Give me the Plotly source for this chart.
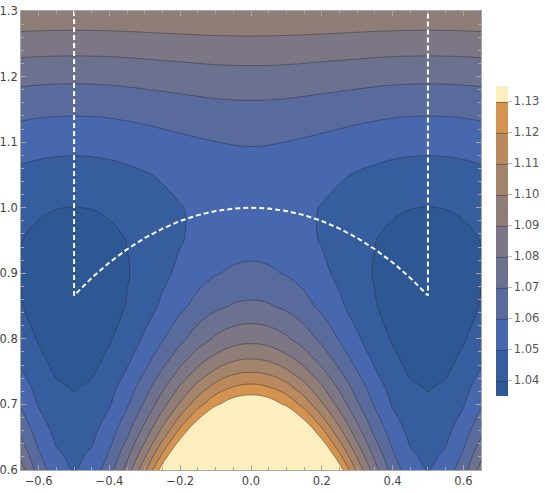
import plotly.graph_objects as go

# ---- data -----------------------------------------------------------------
# sample rows (y) and half-period columns (x >= 0); the field is mirror
# symmetric about x = 0 and about x = +-0.5
y_rows = [0.6, 0.625, 0.65, 0.675, 0.7, 0.725, 0.75, 0.775, 0.8, 0.85,
          0.9, 0.95, 1.0, 1.05, 1.1, 1.15, 1.2, 1.25, 1.3]
x_half = [0.0, 0.05, 0.1, 0.15, 0.2, 0.25, 0.3, 0.35, 0.4, 0.45, 0.5]

z_half = [
    [1.2310, 1.2261, 1.2120, 1.1904, 1.1639, 1.1355, 1.1080, 1.0840, 1.0656, 1.0539, 1.0500],  # 0.600
    [1.2032, 1.1989, 1.1866, 1.1679, 1.1450, 1.1205, 1.0970, 1.0766, 1.0609, 1.0511, 1.0478],  # 0.625
    [1.1787, 1.1750, 1.1643, 1.1480, 1.1282, 1.1072, 1.0871, 1.0698, 1.0566, 1.0484, 1.0456],  # 0.650
    [1.1575, 1.1543, 1.1451, 1.1311, 1.1141, 1.0961, 1.0788, 1.0640, 1.0528, 1.0458, 1.0434],  # 0.675
    [1.1390, 1.1362, 1.1283, 1.1162, 1.1016, 1.0862, 1.0714, 1.0588, 1.0492, 1.0433, 1.0413],  # 0.700
    [1.1234, 1.1211, 1.1144, 1.1042, 1.0917, 1.0785, 1.0658, 1.0549, 1.0466, 1.0414, 1.0396],  # 0.725
    [1.1094, 1.1074, 1.1017, 1.0930, 1.0824, 1.0711, 1.0602, 1.0508, 1.0435, 1.0390, 1.0375],  # 0.750
    [1.0972, 1.0955, 1.0907, 1.0833, 1.0742, 1.0646, 1.0553, 1.0473, 1.0412, 1.0373, 1.0360],  # 0.775
    [1.0870, 1.0856, 1.0815, 1.0752, 1.0675, 1.0593, 1.0514, 1.0445, 1.0392, 1.0359, 1.0348],  # 0.800
    [1.0718, 1.0708, 1.0678, 1.0633, 1.0577, 1.0517, 1.0458, 1.0406, 1.0366, 1.0341, 1.0332],  # 0.850
    [1.0621, 1.0614, 1.0594, 1.0562, 1.0522, 1.0478, 1.0434, 1.0394, 1.0362, 1.0342, 1.0335],  # 0.900
    [1.0564, 1.0559, 1.0545, 1.0522, 1.0494, 1.0462, 1.0431, 1.0402, 1.0380, 1.0365, 1.0360],  # 0.950
    [1.0547, 1.0543, 1.0533, 1.0516, 1.0496, 1.0473, 1.0449, 1.0429, 1.0412, 1.0402, 1.0398],  # 1.000
    [1.0562, 1.0559, 1.0552, 1.0540, 1.0526, 1.0510, 1.0493, 1.0479, 1.0467, 1.0460, 1.0457],  # 1.050
    [1.0606, 1.0604, 1.0599, 1.0590, 1.0580, 1.0568, 1.0556, 1.0546, 1.0537, 1.0532, 1.0530],  # 1.100
    [1.0675, 1.0674, 1.0670, 1.0663, 1.0655, 1.0647, 1.0638, 1.0630, 1.0623, 1.0619, 1.0618],  # 1.150
    [1.0765, 1.0764, 1.0761, 1.0756, 1.0750, 1.0744, 1.0738, 1.0732, 1.0727, 1.0724, 1.0723],  # 1.200
    [1.0870, 1.0869, 1.0868, 1.0865, 1.0861, 1.0858, 1.0854, 1.0850, 1.0847, 1.0846, 1.0845],  # 1.250
    [1.0997, 1.0997, 1.0995, 1.0993, 1.0991, 1.0988, 1.0985, 1.0983, 1.0981, 1.0979, 1.0979],  # 1.300
]

# contour levels / colour bar labels
levels = [1.04, 1.05, 1.06, 1.07, 1.08, 1.09, 1.10, 1.11, 1.12, 1.13]
level_labels = ["1.04", "1.05", "1.06", "1.07", "1.08", "1.09", "1.10", "1.11", "1.12", "1.13"]

# band colours, lowest (below 1.04) to highest (above 1.13)
band_colors = ["#2d5894", "#365e9f", "#4768af", "#596b9d", "#6c7190",
               "#7d7684", "#8f7e77", "#a4856b", "#ba8a5e", "#d4934f", "#fdefbd"]

# dashed boundary (fundamental domain)
bound_x = [-0.5, -0.5, -0.45, -0.4, -0.35, -0.3, -0.25, -0.2, -0.15, -0.1, -0.05, 0.0,
           0.05, 0.1, 0.15, 0.2, 0.25, 0.3, 0.35, 0.4, 0.45, 0.5, 0.5]
bound_y = [1.3, 0.866, 0.893, 0.9165, 0.9367, 0.9539, 0.9682, 0.9798, 0.9887, 0.995, 0.9987, 1.0,
           0.9987, 0.995, 0.9887, 0.9798, 0.9682, 0.9539, 0.9367, 0.9165, 0.893, 0.866, 1.3]

x_ticks = [-0.6, -0.4, -0.2, 0.0, 0.2, 0.4, 0.6]
x_tick_text = ["\u22120.6", "\u22120.4", "\u22120.2", "0.0", "0.2", "0.4", "0.6"]
y_ticks = [0.6, 0.7, 0.8, 0.9, 1.0, 1.1, 1.2, 1.3]
y_tick_text = ["0.6", "0.7", "0.8", "0.9", "1.0", "1.1", "1.2", "1.3"]

# ---- build the full table from the half-period columns ---------------------
n_half = len(x_half) - 1              # 10 steps of 0.05 from 0 to 0.5
step = x_half[1] - x_half[0]
x_full, col_index = [], []
for k in range(-14, 15):
    x_full.append(round(k * step, 4))
    j = abs(k)
    if j > n_half:
        j = 2 * n_half - j
    col_index.append(j)
z_full = [[row[j] for j in col_index] for row in z_half]

cs = [[i / (len(band_colors) - 1), c] for i, c in enumerate(band_colors)]

FONT = "DejaVu Sans"
fig = go.Figure()
fig.add_trace(go.Contour(
    x=x_full, y=y_rows, z=z_full,
    autocontour=False,
    contours=dict(start=levels[0], end=levels[-1], size=round(levels[1] - levels[0], 4),
                  coloring="fill", showlines=True),
    line=dict(color="rgba(40,40,55,0.55)", width=0.8, smoothing=1.3),
    colorscale=cs,
    colorbar=dict(
        x=1.0326, xanchor="left", xpad=0, y=0.499, yanchor="middle",
        len=0.675, lenmode="fraction", thickness=12, ypad=0,
        outlinewidth=0,
        tickvals=levels, ticktext=level_labels,
        ticks="outside", ticklen=4, tickcolor="#bbbbbb", tickwidth=1,
        tickfont=dict(family=FONT, size=11.5, color="#555555"),
    ),
    hoverinfo="skip",
))
fig.add_trace(go.Scatter(
    x=bound_x, y=bound_y, mode="lines",
    line=dict(color="white", width=2, dash="5px,3px"),
    hoverinfo="skip", showlegend=False,
))

axis_common = dict(
    showgrid=False, zeroline=False, automargin=False,
    showline=True, linecolor="#a6a6a6", linewidth=1, mirror="ticks",
    ticks="inside", ticklen=5, tickcolor="#a6a6a6", tickwidth=1,
    tickfont=dict(family=FONT, size=11.5, color="#444444"),
)
fig.update_xaxes(range=[-0.65, 0.65], tickvals=x_ticks, ticktext=x_tick_text,
                 minor=dict(dtick=0.05, tick0=0, ticks="inside", ticklen=3,
                            tickcolor="#a6a6a6", showgrid=False),
                 **axis_common)
fig.update_yaxes(range=[0.6, 1.3], tickvals=y_ticks, ticktext=y_tick_text,
                 minor=dict(dtick=0.02, tick0=0, ticks="inside", ticklen=3,
                            tickcolor="#a6a6a6", showgrid=False),
                 **axis_common)
fig.update_layout(
    width=545, height=493,
    margin=dict(l=21, r=64, t=11, b=23, autoexpand=False),
    paper_bgcolor="white", plot_bgcolor="white",
    showlegend=False,
)
# remove the browser's default 8 px page margin so the figure fills the window
fig.write_html("out.html", config={"displayModeBar": False},
               post_script="document.body.style.margin='0';")
